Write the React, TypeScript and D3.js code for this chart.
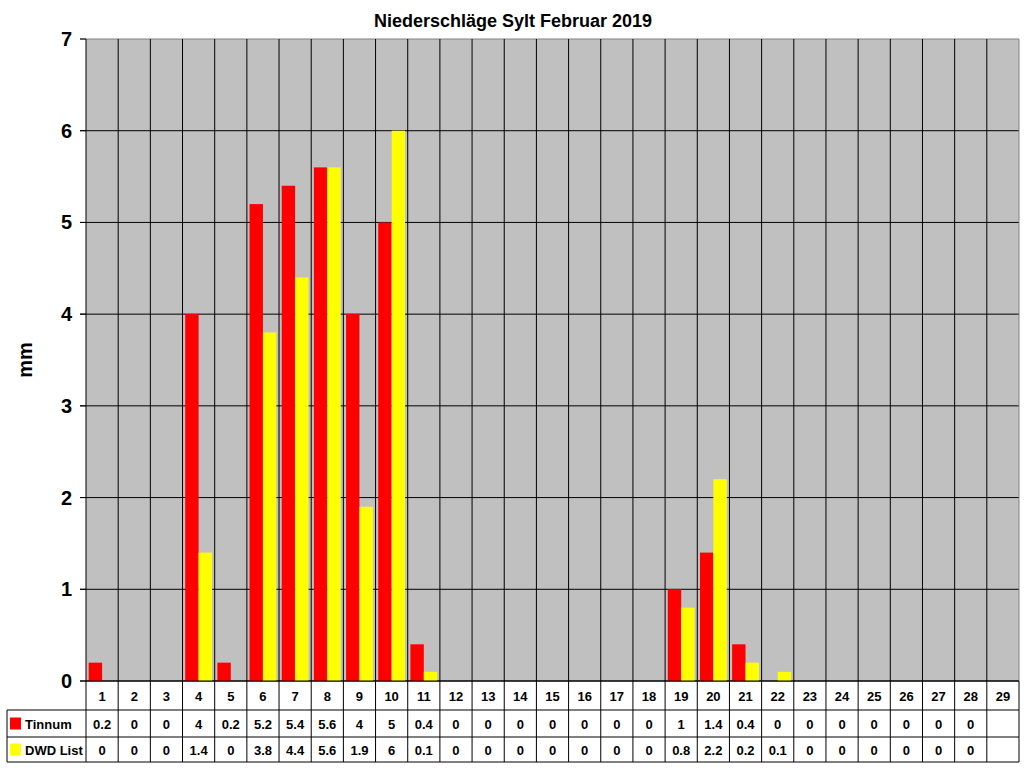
import * as d3 from "d3";
import React from "react";

const days = d3.range(1, 30).map(String);
const tinnum: (number | null)[] = [0.2, 0, 0, 4, 0.2, 5.2, 5.4, 5.6, 4, 5, 0.4, 0, 0, 0, 0, 0, 0, 0, 1, 1.4, 0.4, 0, 0, 0, 0, 0, 0, 0, null];
const dwdList: (number | null)[] = [0, 0, 0, 1.4, 0, 3.8, 4.4, 5.6, 1.9, 6, 0.1, 0, 0, 0, 0, 0, 0, 0, 0.8, 2.2, 0.2, 0.1, 0, 0, 0, 0, 0, 0, null];
const seriesNames = ["Tinnum", "DWD List"];
const seriesColors = ["#ff0000", "#ffff00"];
const yTicks = [0, 1, 2, 3, 4, 5, 6, 7];

const font = "'Liberation Sans', Arial, sans-serif";

export default function App() {
  const width = 1024, height = 768;
  const margin = { top: 39, left: 86, right: 1019, bottom: 681 };

  const x = d3.scaleBand().domain(days).range([margin.left, margin.right]).padding(0);
  const inner = d3.scaleBand().domain(seriesNames).range([0, x.bandwidth()]).paddingInner(0).paddingOuter(0.2);
  const y = d3.scaleLinear().domain([0, 7]).range([margin.bottom, margin.top]);

  const series = [tinnum, dwdList];
  const rowY = [681, 710, 737, 762];
  const fmt = (v: number | null) => (v === null ? "" : String(v));

  return (
    <div style={{ position: "absolute", left: 0, top: 0 }}>
      <svg width={width} height={height} style={{ display: "block", background: "#fff" }} fontFamily={font}>
        <text x={513} y={27} textAnchor="middle" fontSize={18} fontWeight="bold">
          Niederschläge Sylt Februar 2019
        </text>

        {/* plot background */}
        <rect x={margin.left} y={margin.top} width={margin.right - margin.left} height={margin.bottom - margin.top} fill="#c0c0c0" />

        {/* horizontal grid */}
        {yTicks.map((t) => (
          <line key={"h" + t} x1={80} x2={margin.right} y1={y(t)} y2={y(t)}
            stroke={t === 7 ? "#808080" : "#000"} strokeWidth={1} />
        ))}
        {yTicks.map((t) => (
          <line key={"tk" + t} x1={80} x2={margin.left} y1={y(t)} y2={y(t)} stroke="#000" />
        ))}

        {/* vertical grid */}
        {days.map((d) => (
          <line key={"v" + d} x1={x(d)!} x2={x(d)!} y1={margin.top} y2={margin.bottom} stroke="#000" />
        ))}
        <line x1={margin.right} x2={margin.right} y1={margin.top} y2={margin.bottom} stroke="#808080" />

        {/* bars */}
        {series.map((vals, si) =>
          vals.map((v, i) =>
            v ? (
              <rect key={si + "-" + i}
                x={x(days[i])! + inner(seriesNames[si])!}
                y={y(v)}
                width={inner.bandwidth()}
                height={y(0) - y(v)}
                fill={seriesColors[si]} />
            ) : null
          )
        )}

        {/* y tick labels */}
        {yTicks.map((t) => (
          <text key={"yl" + t} x={72} y={y(t) + 7} textAnchor="end" fontSize={20} fontWeight="bold">{t}</text>
        ))}
        <text transform={`translate(32,${(margin.top + margin.bottom) / 2}) rotate(-90)`} textAnchor="middle" fontSize={20} fontWeight="bold">mm</text>

        {/* data table */}
        <g fontSize={13} fontWeight="bold">
          <line x1={margin.left} x2={margin.right} y1={rowY[0]} y2={rowY[0]} stroke="#000" />
          {[1, 2, 3].map((r) => (
            <line key={"r" + r} x1={7} x2={margin.right} y1={rowY[r]} y2={rowY[r]} stroke="#000" />
          ))}
          <line x1={7} x2={7} y1={rowY[1]} y2={rowY[3]} stroke="#000" />
          {days.map((d) => (
            <line key={"tv" + d} x1={x(d)!} x2={x(d)!} y1={rowY[0]} y2={rowY[3]} stroke="#000" />
          ))}
          <line x1={margin.right} x2={margin.right} y1={rowY[0]} y2={rowY[3]} stroke="#000" />

          {days.map((d) => (
            <text key={"dl" + d} x={x(d)! + x.bandwidth() / 2} y={(rowY[0] + rowY[1]) / 2 + 5} textAnchor="middle">{d}</text>
          ))}
          {series.map((vals, si) => (
            <g key={"row" + si}>
              <rect x={10} y={(rowY[si + 1] + rowY[si + 2]) / 2 - 6} width={11} height={12} fill={seriesColors[si]} />
              <text x={25} y={(rowY[si + 1] + rowY[si + 2]) / 2 + 5}>{seriesNames[si]}</text>
              {vals.map((v, i) => (
                <text key={i} x={x(days[i])! + x.bandwidth() / 2} y={(rowY[si + 1] + rowY[si + 2]) / 2 + 5} textAnchor="middle">{fmt(v)}</text>
              ))}
            </g>
          ))}
        </g>
      </svg>
    </div>
  );
}
